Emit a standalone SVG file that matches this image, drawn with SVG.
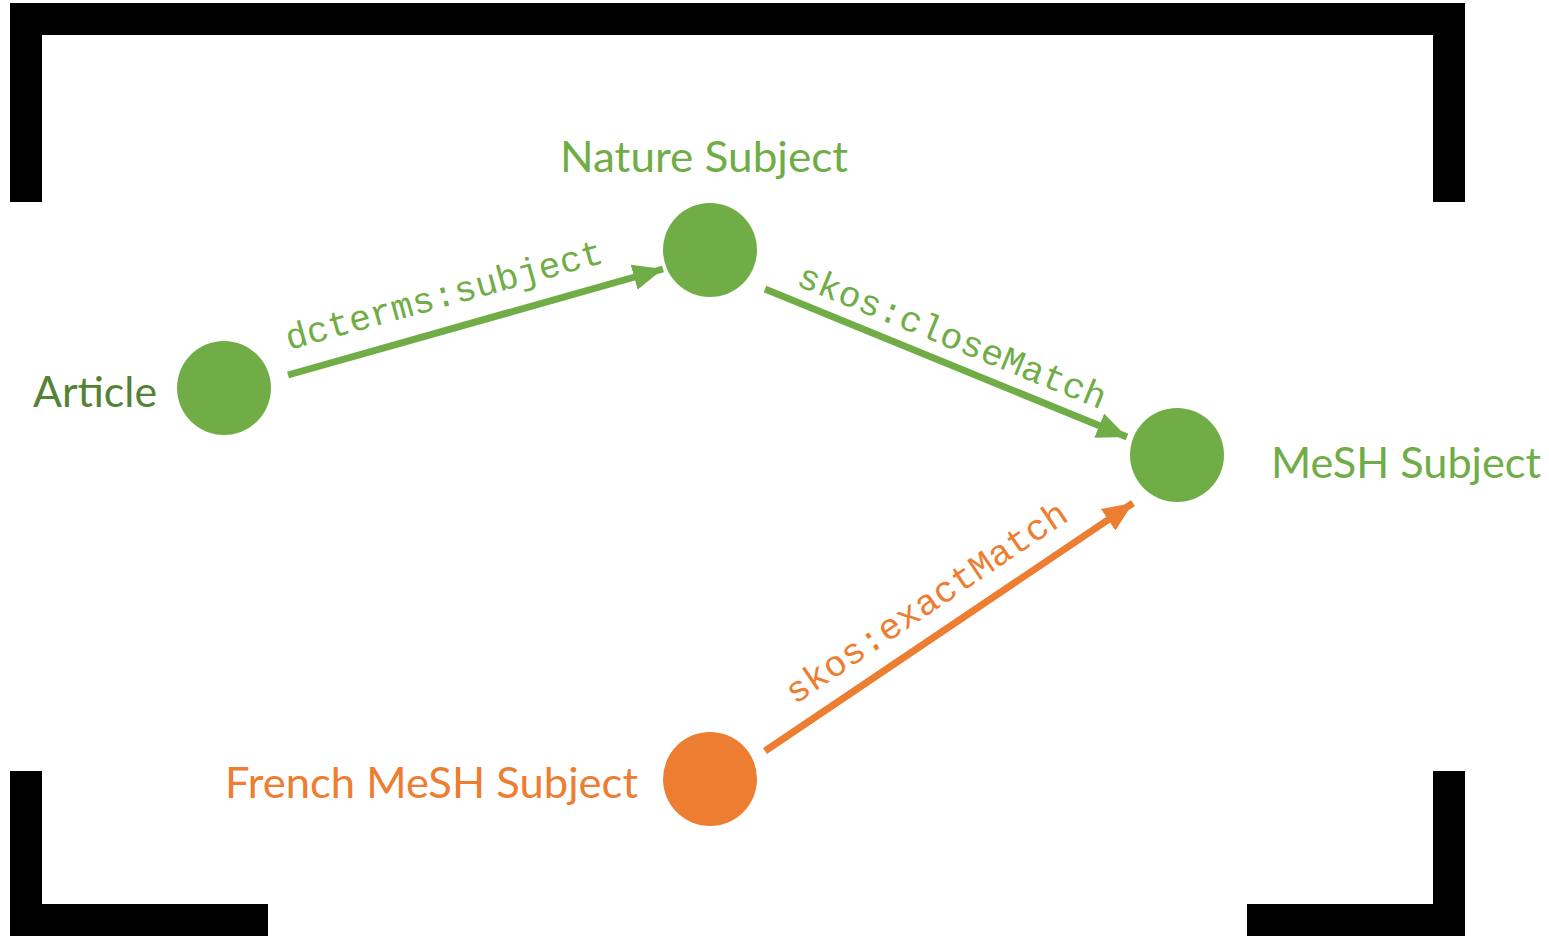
<svg xmlns="http://www.w3.org/2000/svg" width="1549" height="937" viewBox="0 0 1549 937">
<defs>
<style>
.frame{fill:#000}
.g{fill:#70AD47}
.o{fill:#ED7D31}
.lbl{font-family:"Lato","Open Sans",sans-serif;font-size:42px}
.mono{font-family:"Liberation Mono","Courier New",monospace;font-size:36px}
.lg{stroke:#70AD47;stroke-width:7;fill:none}
.lo{stroke:#ED7D31;stroke-width:7;fill:none}
</style>
<marker id="ag" markerUnits="userSpaceOnUse" markerWidth="32" markerHeight="26" refX="30" refY="13" orient="auto"><path d="M0,0 L30,13 L0,26 Z" fill="#70AD47"/></marker>
<marker id="ao" markerUnits="userSpaceOnUse" markerWidth="32" markerHeight="26" refX="30" refY="13" orient="auto"><path d="M0,0 L30,13 L0,26 Z" fill="#ED7D31"/></marker>
</defs>
<rect width="1549" height="937" fill="#fff"/>
<g id="frame">
<path class="frame" d="M10,3 H1465 V202 H1433 V35 H42 V202 H10 Z"/>
<path class="frame" d="M10,771 H42 V904 H268 V936 H10 Z"/>
<path class="frame" d="M1433,771 H1465 V936 H1247 V904 H1433 Z"/>
</g>
<g id="connectors">
<line class="lg" x1="288" y1="375" x2="663" y2="269" marker-end="url(#ag)"/>
<line class="lg" x1="765" y1="289" x2="1127" y2="437" marker-end="url(#ag)"/>
<line class="lo" x1="765" y1="751" x2="1133" y2="503" marker-end="url(#ao)"/>
<text class="mono" fill="#70AD47" transform="translate(289,350) rotate(-15.5)" textLength="328" lengthAdjust="spacingAndGlyphs">dcterms:subject</text>
<text class="mono" fill="#70AD47" transform="translate(795,285) rotate(22.2)" textLength="330" lengthAdjust="spacingAndGlyphs">skos:closeMatch</text>
<text class="mono" fill="#ED7D31" transform="translate(795,705) rotate(-34)" textLength="332" lengthAdjust="spacingAndGlyphs">skos:exactMatch</text>
</g>
<g id="article">
<circle class="g" cx="224" cy="388" r="47"/>
<text class="lbl" fill="#548235" x="33" y="407" textLength="124" lengthAdjust="spacingAndGlyphs">Article</text>
</g>
<g id="nature-subject">
<circle class="g" cx="710" cy="250" r="47"/>
<text class="lbl" fill="#70AD47" x="560" y="172" textLength="288" lengthAdjust="spacingAndGlyphs">Nature Subject</text>
</g>
<g id="mesh-subject">
<circle class="g" cx="1177" cy="455" r="47"/>
<text class="lbl" fill="#70AD47" x="1271" y="478" textLength="270" lengthAdjust="spacingAndGlyphs">MeSH Subject</text>
</g>
<g id="french-mesh-subject">
<circle class="o" cx="710" cy="779" r="47"/>
<text class="lbl" fill="#ED7D31" x="225" y="798" textLength="413" lengthAdjust="spacingAndGlyphs">French MeSH Subject</text>
</g>
</svg>
